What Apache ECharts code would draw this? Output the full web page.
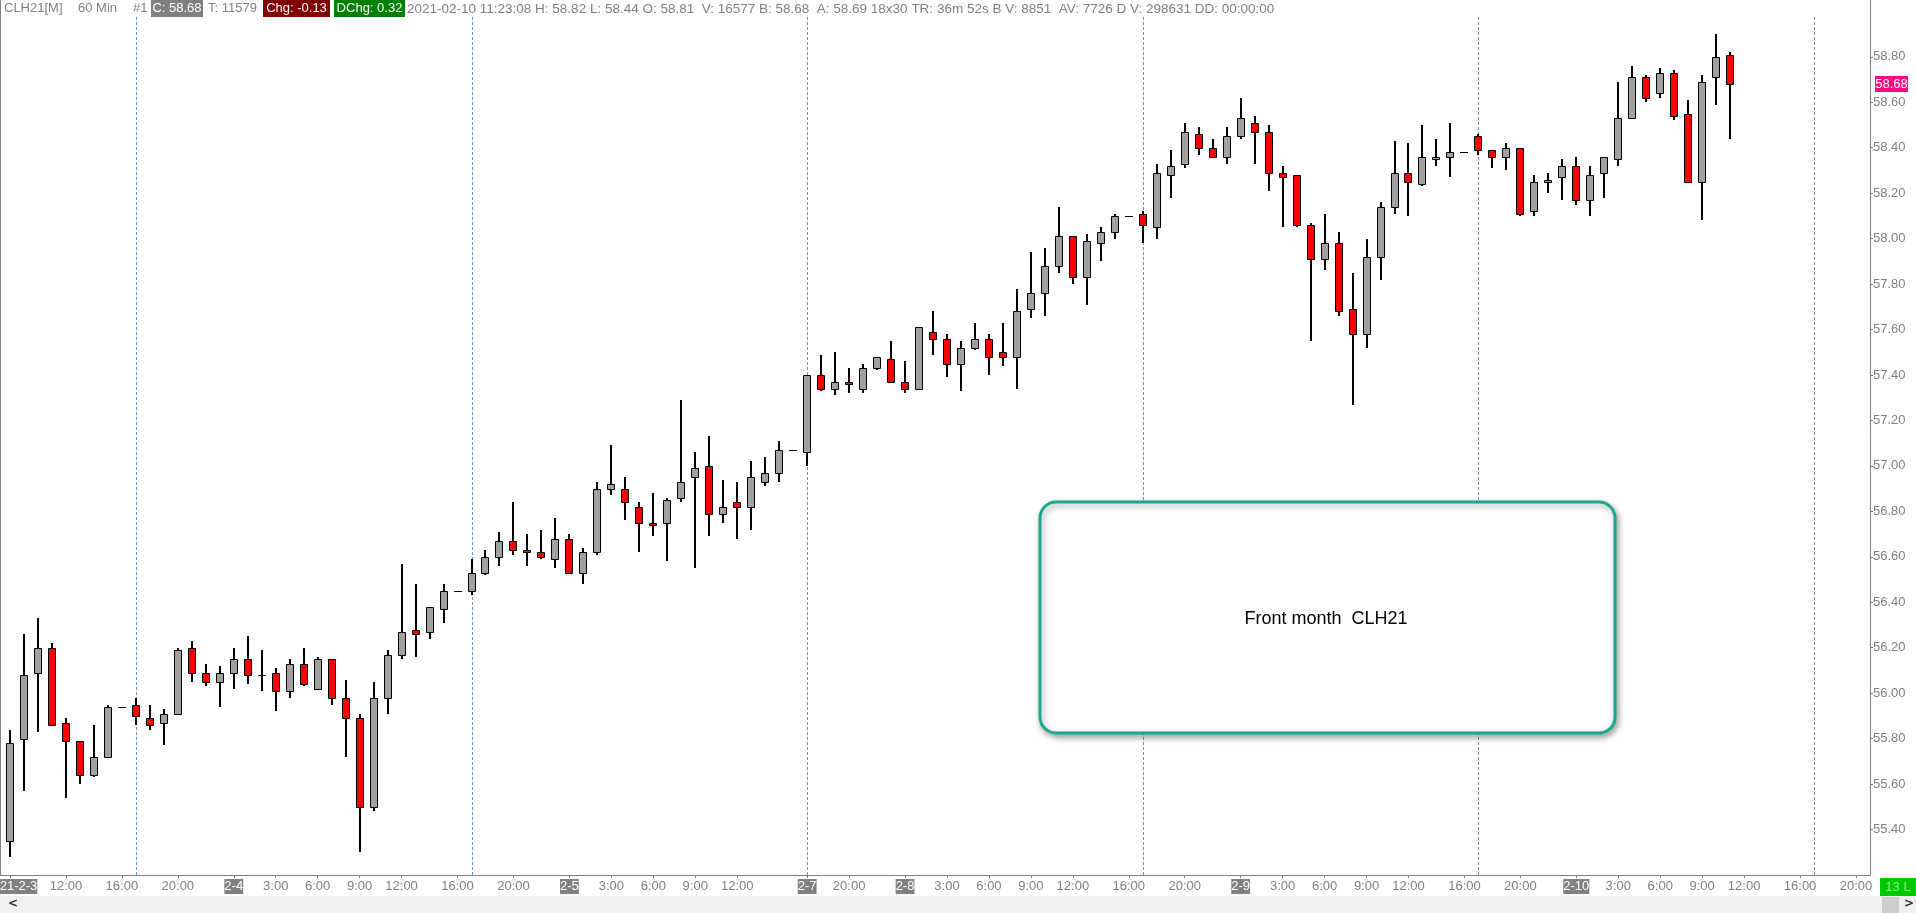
<!DOCTYPE html>
<html><head><meta charset="utf-8">
<script src="https://cdn.jsdelivr.net/npm/echarts@6/dist/echarts.min.js"></script>
<style>html,body{margin:0;padding:0;background:#fff;overflow:hidden}#c{width:1916px;height:913px}</style>
</head><body><div id="c"></div>
<script>
// ---- data (hourly bars, CLH21) ----
const days = [['2-3', 8, 23], ['2-4', 0, 23], ['2-5', 0, 16], ['2-7', 17, 23], ['2-8', 0, 23], ['2-9', 0, 23], ['2-10', 0, 21]];
const opens  = [55.35,55.80,56.09,56.20,55.87,55.79,55.64,55.72,55.94,55.95,55.89,55.87,55.91,56.20,56.09,56.05,56.09,56.15,56.08,56.09,56.01,56.13,56.02,56.15,55.98,55.89,55.50,55.98,56.17,56.28,56.27,56.37,56.45,56.45,56.53,56.60,56.67,56.63,56.62,56.59,56.68,56.53,56.62,56.90,56.90,56.82,56.75,56.75,56.86,56.95,57.00,56.79,56.84,56.82,56.93,56.97,57.07,57.06,57.40,57.34,57.37,57.34,57.43,57.47,57.37,57.34,57.59,57.56,57.45,57.52,57.56,57.50,57.48,57.69,57.76,57.88,58.01,57.83,57.98,58.03,58.10,58.11,58.05,58.28,58.33,58.46,58.40,58.36,58.45,58.51,58.47,58.29,58.28,58.06,57.91,57.98,57.69,57.58,57.92,58.14,58.29,58.24,58.35,58.36,58.38,58.45,58.39,58.36,58.40,58.12,58.25,58.27,58.32,58.17,58.29,58.35,58.53,58.71,58.64,58.73,58.55,58.25,58.71,58.81];
const highs  = [55.84,56.26,56.33,56.22,55.89,55.79,55.86,55.95,55.94,55.98,55.95,55.93,56.20,56.23,56.13,56.12,56.20,56.25,56.19,56.11,56.15,56.20,56.16,56.15,56.06,55.91,56.05,56.19,56.57,56.48,56.38,56.48,56.45,56.59,56.63,56.71,56.84,56.70,56.72,56.77,56.70,56.64,56.93,57.09,56.95,56.84,56.88,56.86,57.29,57.06,57.13,56.94,56.93,57.02,57.04,57.11,57.07,57.40,57.49,57.50,57.43,57.45,57.48,57.55,57.46,57.61,57.68,57.58,57.55,57.63,57.58,57.63,57.78,57.94,57.96,58.14,58.01,58.02,58.05,58.11,58.10,58.12,58.33,58.39,58.51,58.49,58.44,58.49,58.62,58.54,58.50,58.32,58.28,58.07,58.11,58.03,57.85,58.00,58.16,58.43,58.42,58.50,58.44,58.51,58.38,58.46,58.39,58.42,58.40,58.28,58.29,58.35,58.36,58.32,58.36,58.69,58.76,58.72,58.75,58.74,58.61,58.72,58.90,58.82];
const lows   = [55.28,55.57,55.83,55.86,55.54,55.60,55.63,55.72,55.94,55.86,55.84,55.77,55.91,56.05,56.03,55.94,56.02,56.04,56.01,55.92,55.98,56.03,56.02,55.95,55.72,55.30,55.48,55.91,56.15,56.16,56.24,56.31,56.45,56.43,56.52,56.56,56.61,56.56,56.59,56.55,56.53,56.48,56.61,56.87,56.76,56.62,56.69,56.58,56.84,56.55,56.69,56.75,56.68,56.72,56.91,56.93,57.07,57.00,57.33,57.31,57.32,57.32,57.42,57.37,57.32,57.34,57.49,57.39,57.33,57.51,57.40,57.44,57.34,57.65,57.66,57.85,57.80,57.71,57.90,58.00,58.10,57.98,58.00,58.18,58.31,58.37,58.36,58.33,58.44,58.33,58.21,58.05,58.05,57.55,57.86,57.66,57.27,57.52,57.82,58.11,58.10,58.23,58.32,58.27,58.38,58.37,58.31,58.30,58.10,58.10,58.20,58.17,58.15,58.10,58.18,58.32,58.53,58.60,58.62,58.52,58.25,58.08,58.59,58.44];
const closes = [55.78,56.08,56.20,55.86,55.79,55.64,55.72,55.94,55.94,55.90,55.86,55.91,56.19,56.09,56.05,56.09,56.15,56.08,56.08,56.01,56.13,56.04,56.15,55.98,55.89,55.50,55.98,56.17,56.27,56.26,56.38,56.45,56.45,56.53,56.60,56.67,56.63,56.62,56.60,56.68,56.53,56.62,56.90,56.92,56.84,56.75,56.74,56.85,56.93,56.99,56.79,56.82,56.82,56.95,56.97,57.07,57.07,57.40,57.34,57.37,57.36,57.43,57.48,57.37,57.34,57.61,57.56,57.45,57.52,57.56,57.48,57.48,57.68,57.76,57.88,58.01,57.83,57.99,58.03,58.10,58.10,58.06,58.29,58.32,58.47,58.40,58.36,58.45,58.53,58.47,58.29,58.27,58.06,57.91,57.98,57.68,57.58,57.92,58.14,58.29,58.25,58.36,58.36,58.38,58.38,58.39,58.36,58.40,58.11,58.25,58.26,58.32,58.17,58.28,58.36,58.53,58.71,58.62,58.73,58.54,58.25,58.69,58.80,58.68];
const sessionStarts = [9, 33, 57, 81, 105, 129];
const tickLabels = {0:'21-2-3',4:'12:00',8:'16:00',12:'20:00',16:'2-4',19:'3:00',22:'6:00',25:'9:00',28:'12:00',32:'16:00',36:'20:00',
  40:'2-5',43:'3:00',46:'6:00',49:'9:00',52:'12:00',57:'2-7',60:'20:00',64:'2-8',67:'3:00',70:'6:00',73:'9:00',76:'12:00',80:'16:00',84:'20:00',
  88:'2-9',91:'3:00',94:'6:00',97:'9:00',100:'12:00',104:'16:00',108:'20:00',112:'2-10',115:'3:00',118:'6:00',121:'9:00',124:'12:00',128:'16:00',132:'20:00'};
const dateTickIdx = [0, 16, 40, 57, 64, 88, 112];
const yTickValues = [55.4, 55.6, 55.8, 56.0, 56.2, 56.4, 56.6, 56.8, 57.0, 57.2, 57.4, 57.6, 57.8, 58.0, 58.2, 58.4, 58.6, 58.8];
const yMin = 55.2, yMax = 59.05, yStep = 0.2;
const headerPlain = [['CLH21[M]', 4], ['60 Min', 78], ['#1', 133], ['T: 11579', 208]];
const headerBoxes = [['C: 58.68', 151, 52, '#808080'], ['Chg: -0.13', 263, 67, '#800000'], ['DChg: 0.32', 334, 71, '#008000']];
const headerTail = '2021-02-10 11:23:08 H: 58.82 L: 58.44 O: 58.81  V: 16577 B: 58.68  A: 58.69 18x30 TR: 36m 52s B V: 8851  AV: 7726 D V: 298631 DD: 00:00:00';
const noteText = 'Front month  CLH21';

// ---- build ----
const categories = [];
days.forEach(([d, h0, h1]) => { for (let h = h0; h <= h1; h++) categories.push(d + ' ' + h + ':00'); });
const candleData = opens.map((o, i) => [i, o, closes[i], lows[i], highs[i]]);
const FONT = 'Liberation Sans, Arial, sans-serif';
const GREY = '#808080';

const chart = echarts.init(document.getElementById('c'), null, {renderer: 'canvas'});

const graphics = [];
graphics.push({type:'line', shape:{x1:0.5,y1:0,x2:0.5,y2:875}, style:{stroke:GREY,lineWidth:1}, z:5});
graphics.push({type:'line', shape:{x1:0,y1:875.5,x2:11,y2:875.5}, style:{stroke:GREY,lineWidth:1}, z:5});
// header
graphics.push({type:'rect', shape:{x:1,y:0,width:1868,height:17}, style:{fill:'#fff'}, z:10});
headerPlain.forEach(([t, x]) => graphics.push({type:'text', x:x, y:2, style:{text:t, fill:GREY, font:'13px ' + FONT}, z:11}));
headerBoxes.forEach(([t, x, w, bg]) => {
  graphics.push({type:'rect', shape:{x:x,y:0,width:w,height:17}, style:{fill:bg}, z:11});
  graphics.push({type:'text', x:x + w / 2, y:2, style:{text:t, fill:'#fff', font:'13px ' + FONT, align:'center'}, z:12});
});
graphics.push({type:'text', x:407, y:2, style:{text:headerTail, fill:GREY, font:'13.5px ' + FONT}, z:11});
// note box
graphics.push({type:'rect', shape:{x:1040,y:502,width:575,height:231,r:16},
  style:{fill:'#fff', stroke:'#1aa88e', lineWidth:3, shadowBlur:6, shadowOffsetX:2, shadowOffsetY:3, shadowColor:'rgba(0,0,0,0.35)'}, z:20});
graphics.push({type:'text', x:1326, y:619, style:{text:noteText, fill:'#000', font:'18px ' + FONT, align:'center', verticalAlign:'middle'}, z:21});
// bottom strip
graphics.push({type:'rect', shape:{x:0,y:896,width:1916,height:17}, style:{fill:'#f0f0f0'}, z:5});
graphics.push({type:'text', x:8, y:904, style:{text:'<', fill:'#333', font:'bold 12px DejaVu Sans', verticalAlign:'middle'}, z:6});
graphics.push({type:'rect', shape:{x:1882,y:897,width:17,height:16}, style:{fill:'#cdcdcd'}, z:6});
graphics.push({type:'text', x:1904, y:904, style:{text:'>', fill:'#333', font:'bold 12px DejaVu Sans', verticalAlign:'middle'}, z:6});
// 13 L box
graphics.push({type:'rect', shape:{x:1880,y:878,width:36,height:18}, style:{fill:'#00c800'}, z:6});
graphics.push({type:'text', x:1898, y:887, style:{text:'13 L', fill:'#7ef07e', font:'13px ' + FONT, align:'center', verticalAlign:'middle'}, z:7});

const option = {
  animation: false,
  backgroundColor: '#fff',
  grid: {left: 10, right: 46, top: 0, bottom: 38, containLabel: false, outerBoundsMode: 'none'},
  xAxis: {
    type: 'category', data: categories, boundaryGap: false,
    axisLine: {show: true, lineStyle: {color: GREY, width: 1}},
    axisTick: {show: true, length: 3, interval: (i) => tickLabels[i] !== undefined, lineStyle: {color: GREY}},
    axisLabel: {
      interval: (i) => tickLabels[i] !== undefined, margin: 4, fontFamily: FONT, fontSize: 13, color: GREY,
      formatter: (v, i) => {
        const t = tickLabels[i];
        if (t === undefined) return '';
        if (i === 0) return '{sp| }{d|' + t + '}';
        return dateTickIdx.includes(i) ? '{d|' + t + '}' : '{t|' + t + '}';
      },
      rich: {
        d: {backgroundColor: GREY, color: '#fff', fontFamily: FONT, fontSize: 13, lineHeight: 15, padding: [1, 0, 1, 0]},
        t: {color: GREY, fontFamily: FONT, fontSize: 13, lineHeight: 15, padding: [1, 0, 1, 0]},
        sp: {width: 17, fontSize: 13, lineHeight: 15, padding: [1, 0, 1, 0]}
      }
    },
    splitLine: {show: false}
  },
  yAxis: {
    type: 'value', position: 'right', min: yMin, max: yMax, interval: yStep,
    axisLine: {show: true, lineStyle: {color: GREY, width: 1}},
    axisTick: {show: true, length: 3, customValues: yTickValues, lineStyle: {color: GREY}},
    axisLabel: {color: GREY, fontFamily: FONT, fontSize: 13, margin: 3, customValues: yTickValues,
      formatter: (v) => (v < 55.3 || v > 58.9) ? '' : v.toFixed(2)},
    splitLine: {show: false}
  },
  series: [
    {
      type: 'custom', name: 'sessions', silent: true, z: 1,
      data: sessionStarts.map(i => [i, yMin]), encode: {x: 0, y: 1},
      renderItem: (params, api) => {
        const x = Math.round(api.coord([api.value(0), yMin])[0]) + 0.5;
        const cs = params.coordSys;
        return {type: 'line', shape: {x1: x, y1: cs.y + 17, x2: x, y2: cs.y + cs.height},
          style: {stroke: '#7090c4', lineWidth: 1, lineDash: [3, 2]}};
      }
    },
    {
      type: 'custom', name: 'CLH21', z: 3, clip: false,
      data: candleData, encode: {x: 0, y: [1, 2, 3, 4]},
      renderItem: (params, api) => {
        const i = api.value(0), o = api.value(1), c = api.value(2), l = api.value(3), h = api.value(4);
        const pO = api.coord([i, o]), pC = api.coord([i, c]), pL = api.coord([i, l]), pH = api.coord([i, h]);
        const cx = Math.round(pO[0]);
        const children = [];
        const wTop = Math.round(pH[1]), wBot = Math.round(pL[1]);
        if (wBot - wTop > 0) children.push({type: 'rect', shape: {x: cx - 1, y: wTop, width: 2, height: wBot - wTop}, style: {fill: '#000'}});
        const bt = Math.round(Math.min(pO[1], pC[1])), bb = Math.round(Math.max(pO[1], pC[1]));
        if (bb - bt < 1) {
          children.push({type: 'line', shape: {x1: cx - 4, y1: bt + 0.5, x2: cx + 4, y2: bt + 0.5}, style: {stroke: '#000', lineWidth: 1}});
        } else {
          children.push({type: 'rect', shape: {x: cx - 3.5, y: bt + 0.5, width: 7, height: bb - bt},
            style: {fill: c > o ? '#a0a0a0' : '#ff0000', stroke: '#000', lineWidth: 1}});
        }
        return {type: 'group', children};
      }
    }
  ],
  graphic: graphics
};
chart.setOption(option);

// last price tag on the right axis
const lastClose = closes[closes.length - 1];
const py = chart.convertToPixel({yAxisIndex: 0}, lastClose);
graphics.push({type:'rect', shape:{x:1875, y:Math.round(py) - 8, width:33, height:16}, style:{fill:'#ff0a82'}, z:8});
graphics.push({type:'text', x:1891.5, y:Math.round(py), style:{text:lastClose.toFixed(2), fill:'#fff', font:'13px ' + FONT, align:'center', verticalAlign:'middle'}, z:9});
chart.setOption({graphic: graphics});
</script>
</body></html>
